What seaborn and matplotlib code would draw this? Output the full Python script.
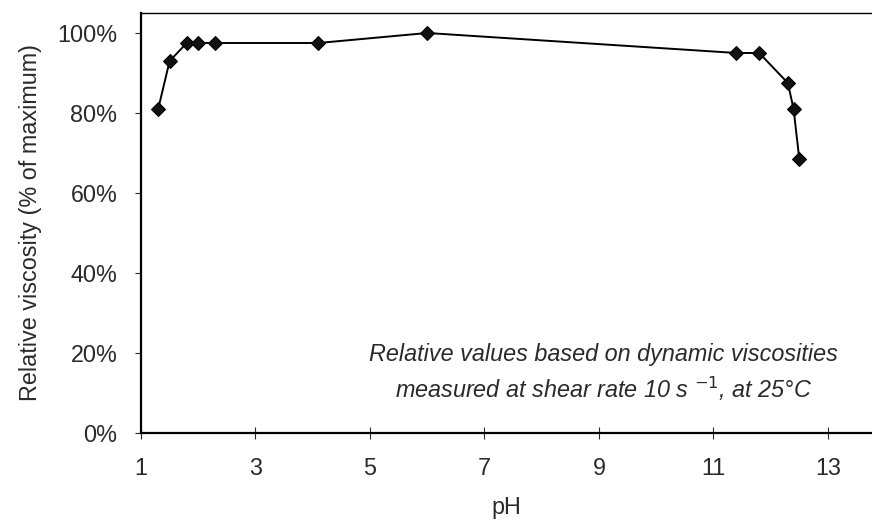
import matplotlib
matplotlib.use("Agg")
import matplotlib.pyplot as plt
import seaborn as sns
import pandas as pd
from matplotlib.ticker import PercentFormatter

# pH of each sample and its viscosity relative to the maximum (%)
ph = [1.3, 1.5, 1.8, 2.0, 2.3, 4.1, 6.0, 11.4, 11.8, 12.3, 12.4, 12.5]
rel_visc = [81, 93, 97.5, 97.5, 97.5, 97.5, 100, 95, 95, 87.5, 81, 68.5]
x_ticks = [1, 3, 5, 7, 9, 11, 13]
y_ticks = [0, 20, 40, 60, 80, 100]

df = pd.DataFrame({"pH": ph, "visc": rel_visc})

sns.set_theme(style="white")
plt.rcParams["font.family"] = ["Liberation Sans", "DejaVu Sans"]
FS = 16.8
TXT = "#2a2a2a"

fig = plt.figure(figsize=(8.72, 5.30), dpi=100)
ax = fig.add_axes([0.1617, 0.183, 1.0 - 0.1617, 0.9755 - 0.183])

sns.lineplot(data=df, x="pH", y="visc", ax=ax, color="black", linewidth=1.4,
             marker="D", markersize=7.5, markeredgecolor="black",
             markerfacecolor="#111111", sort=False)

ax.set_xlim(1, 13.77)
ax.set_ylim(0, 105)
ax.set_xticks(x_ticks)
ax.set_yticks(y_ticks)
ax.yaxis.set_major_formatter(PercentFormatter(decimals=0))

ax.set_xlabel("pH", fontsize=FS, color=TXT, labelpad=12)
ax.set_ylabel("Relative viscosity (% of maximum)", fontsize=FS,
              color=TXT, labelpad=11)

ax.tick_params(axis="x", direction="inout", length=8, width=0.8,
               labelsize=FS, colors=TXT, pad=13)
ax.tick_params(axis="y", direction="out", length=4, width=0.8,
               labelsize=FS, colors=TXT, pad=13)
ax.tick_params(axis="both", bottom=True, left=True)

for side in ("left", "bottom"):
    ax.spines[side].set_color("black")
    ax.spines[side].set_linewidth(1.6)
ax.spines["top"].set_color("black")
ax.spines["top"].set_linewidth(1.0)
ax.spines["right"].set_visible(False)

ax.text(0.633, 0.188, "Relative values based on dynamic viscosities",
        transform=ax.transAxes, ha="center", va="center",
        fontsize=FS, style="italic", color=TXT)
ax.text(0.633, 0.105, r"measured at shear rate 10 s $^{\mathit{-1}}$, at 25°C",
        transform=ax.transAxes, ha="center", va="center",
        fontsize=FS, style="italic", color=TXT)

fig.savefig("out.png", dpi=100)
